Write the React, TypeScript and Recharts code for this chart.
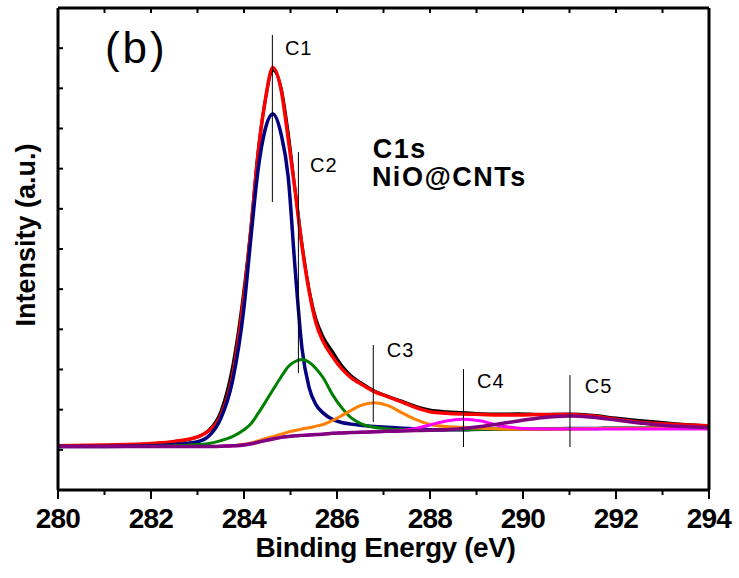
import { LineChart, Line, XAxis, YAxis, ReferenceLine, ReferenceDot } from 'recharts';

// C1s XPS spectrum of NiO@CNTs (intensity in tick units, 0..12)
const energy = [
  280, 281, 282, 282.5, 283, 283.25, 283.5, 283.75, 284, 284.15, 284.3, 284.45, 284.62, 284.8,
  284.95, 285.1, 285.25, 285.4, 285.55, 285.7, 285.9, 286.1, 286.3, 286.5, 286.8, 287.1, 287.4,
  287.7, 288, 288.35, 288.7, 289.1, 289.5, 289.9, 290.4, 291, 291.5, 292, 292.5, 293, 293.5, 294,
];
const measured = [
  1.1, 1.11, 1.15, 1.2, 1.32, 1.5, 1.95, 3.05, 5.0, 6.55, 8.4, 9.65, 10.45, 10.0, 8.9, 7.45, 6.1,
  5.0, 4.25, 3.82, 3.45, 3.1, 2.85, 2.68, 2.47, 2.33, 2.21, 2.08, 1.99, 1.95, 1.93, 1.9, 1.89, 1.9,
  1.88, 1.89, 1.86, 1.79, 1.73, 1.68, 1.63, 1.6,
];
const envelope = [
  1.1, 1.12, 1.16, 1.21, 1.32, 1.48, 1.85, 2.82, 4.85, 6.5, 8.35, 9.65, 10.52, 9.95, 8.75, 7.45,
  6.05, 4.95, 4.15, 3.7, 3.33, 3.02, 2.8, 2.65, 2.45, 2.32, 2.19, 2.05, 1.95, 1.91, 1.89, 1.88,
  1.87, 1.87, 1.88, 1.88, 1.84, 1.76, 1.69, 1.65, 1.62, 1.6,
];
const c1 = [
  1.08, 1.08, 1.1, 1.13, 1.2, 1.35, 1.78, 2.7, 4.55, 6.3, 7.95, 8.95, 9.36, 8.85, 7.8, 5.5, 3.5,
  2.55, 2.12, 1.92, 1.76, 1.68, 1.64, 1.61, 1.58, 1.56, 1.54, 1.52, 1.5, 1.5, 1.5, 1.51, 1.51,
  1.52, 1.52, 1.53, 1.53, 1.54, 1.54, 1.55, 1.55, 1.55,
];
const c2 = [
  1.08, 1.08, 1.09, 1.1, 1.13, 1.16, 1.23, 1.33, 1.5, 1.65, 1.9, 2.17, 2.49, 2.82, 3.07, 3.2, 3.25,
  3.18, 3.02, 2.8, 2.38, 2.05, 1.8, 1.66, 1.56, 1.52, 1.5, 1.49, 1.49, 1.5, 1.5, 1.51, 1.51, 1.52,
  1.52, 1.53, 1.53, 1.54, 1.54, 1.55, 1.55, 1.55,
];
const c3 = [
  1.08, 1.08, 1.08, 1.08, 1.08, 1.08, 1.08, 1.1, 1.14, 1.17, 1.22, 1.28, 1.33, 1.39, 1.44, 1.48,
  1.52, 1.55, 1.59, 1.63, 1.73, 1.85, 1.98, 2.1, 2.17, 2.1, 1.92, 1.75, 1.63, 1.58, 1.56, 1.54,
  1.52, 1.51, 1.51, 1.52, 1.53, 1.54, 1.54, 1.55, 1.55, 1.55,
];
const c4 = [
  1.08, 1.08, 1.08, 1.08, 1.08, 1.08, 1.09, 1.1, 1.12, 1.15, 1.19, 1.23, 1.27, 1.31, 1.33, 1.35,
  1.36, 1.37, 1.38, 1.39, 1.41, 1.42, 1.43, 1.44, 1.45, 1.46, 1.48, 1.53, 1.62, 1.72, 1.76, 1.72,
  1.6, 1.54, 1.52, 1.52, 1.52, 1.52, 1.52, 1.52, 1.52, 1.52,
];
const c5 = [
  1.08, 1.08, 1.08, 1.08, 1.08, 1.08, 1.09, 1.1, 1.12, 1.15, 1.19, 1.23, 1.27, 1.31, 1.33, 1.35,
  1.36, 1.37, 1.38, 1.39, 1.41, 1.42, 1.43, 1.44, 1.45, 1.46, 1.47, 1.48, 1.49, 1.5, 1.53, 1.58,
  1.65, 1.72, 1.8, 1.84, 1.81, 1.74, 1.67, 1.61, 1.58, 1.55,
];

const xTicks = [280, 281, 282, 283, 284, 285, 286, 287, 288, 289, 290, 291, 292, 293, 294];
const yTicks = [0, 1, 2, 3, 4, 5, 6, 7, 8, 9, 10, 11, 12];

// peak markers: vertical line (x, top, bottom) and label anchor
const markerNames = ['C1', 'C2', 'C3', 'C4', 'C5'];
const markerX = [284.61, 285.17, 286.78, 288.72, 291.01];
const markerTop = [11.33, 8.41, 3.61, 3.01, 2.86];
const markerBottom = [7.17, 2.91, 1.69, 1.07, 1.07];
const markerLabelX = [284.88, 285.42, 287.07, 289.01, 291.33];
const markerLabelY = [10.83, 7.92, 3.31, 2.54, 2.41];

const chartData = energy.map((e, i) => ({
  energy: e,
  measured: measured[i],
  envelope: envelope[i],
  c1: c1[i],
  c2: c2[i],
  c3: c3[i],
  c4: c4[i],
  c5: c5[i],
}));

const FONT = "'Liberation Sans', Arial, sans-serif";
const noLabel = () => <g />;

const BottomTick = (props: any) => {
  const { x, y, payload } = props;
  const major = payload.value % 2 === 0;
  return (
    <g>
      <line x1={x} y1={y} x2={x} y2={y + (major ? 9 : 5)} stroke="#000" strokeWidth={2} />
      {major && (
        <text
          x={x}
          y={y + 38}
          textAnchor="middle"
          fontFamily={FONT}
          fontWeight="bold"
          fontSize={28}
          letterSpacing={-0.8}
          fill="#000"
        >
          {payload.value}
        </text>
      )}
    </g>
  );
};

const textAt = (txt: string, size: number, bold: boolean, spacing = 0) => (p: any) => (
  <text
    x={p.cx}
    y={p.cy}
    fontFamily={FONT}
    fontSize={size}
    fontWeight={bold ? 'bold' : 'normal'}
    letterSpacing={spacing}
    fill="#000"
  >
    {txt}
  </text>
);

export default function App() {
  const line = (key: string, color: string, width = 3) => (
    <Line
      type="monotone"
      dataKey={key}
      stroke={color}
      strokeWidth={width}
      dot={false}
      activeDot={false}
      isAnimationActive={false}
    />
  );

  return (
    <div style={{ position: 'absolute', left: 0, top: 0, width: 739, height: 578, background: '#fff' }}>
      <LineChart
        width={739}
        height={578}
        data={chartData}
        margin={{ top: 7, right: 29, bottom: 0, left: 0 }}
      >
        <XAxis
          dataKey="energy"
          type="number"
          domain={[280, 294]}
          ticks={xTicks}
          interval={0}
          height={88}
          tickSize={0}
          tickMargin={0}
          tick={<BottomTick />}
          axisLine={{ stroke: '#000', strokeWidth: 3 }}
          label={{
            content: (p: any) => (
              <text
                x={p.viewBox.x + p.viewBox.width / 2 + 2}
                y={p.viewBox.y + 67}
                textAnchor="middle"
                fontFamily={FONT}
                fontWeight="bold"
                fontSize={28}
                letterSpacing={-0.4}
                fill="#000"
              >
                Binding Energy (eV)
              </text>
            ),
          }}
        />
        <XAxis
          xAxisId="top"
          orientation="top"
          dataKey="energy"
          type="number"
          domain={[280, 294]}
          ticks={xTicks}
          interval={0}
          height={1}
          tickSize={-5}
          tick={noLabel}
          tickLine={{ stroke: '#000', strokeWidth: 2 }}
          axisLine={{ stroke: '#000', strokeWidth: 3 }}
        />
        <YAxis
          type="number"
          domain={[0, 12]}
          ticks={yTicks}
          interval={0}
          width={58}
          tickSize={-5}
          tick={noLabel}
          tickLine={{ stroke: '#000', strokeWidth: 2 }}
          axisLine={{ stroke: '#000', strokeWidth: 3 }}
          label={{
            content: (p: any) => {
              const cx = p.viewBox.x + 35;
              const cy = p.viewBox.y + p.viewBox.height / 2 - 14;
              return (
                <text
                  x={cx}
                  y={cy}
                  transform={`rotate(-90, ${cx}, ${cy})`}
                  textAnchor="middle"
                  fontFamily={FONT}
                  fontWeight="bold"
                  fontSize={27}
                  fill="#000"
                >
                  Intensity (a.u.)
                </text>
              );
            },
          }}
        />
        <YAxis
          yAxisId="right"
          orientation="right"
          type="number"
          domain={[0, 12]}
          ticks={yTicks}
          interval={0}
          width={1}
          tickSize={4}
          tick={noLabel}
          tickLine={{ stroke: '#000', strokeWidth: 2 }}
          axisLine={{ stroke: '#000', strokeWidth: 3 }}
        />

        {line('measured', '#000000', 3)}
        {line('envelope', '#ff0000', 3.5)}
        {line('c1', '#000080', 3.5)}
        {line('c2', '#008000', 3)}
        {line('c3', '#ff8000', 3)}
        {line('c4', '#ff00ff', 3)}
        {line('c5', '#800080', 3.5)}

        {markerNames.map((name, i) => (
          <ReferenceLine
            key={`l-${name}`}
            segment={[
              { x: markerX[i], y: markerTop[i] },
              { x: markerX[i], y: markerBottom[i] },
            ]}
            stroke="#000"
            strokeWidth={1}
          />
        ))}
        {markerNames.map((name, i) => (
          <ReferenceDot
            key={`t-${name}`}
            x={markerLabelX[i]}
            y={markerLabelY[i]}
            shape={textAt(name, 20, false, 1)}
          />
        ))}

        <ReferenceDot x={281.01} y={10.63} shape={textAt('(b)', 44, false, 3)} />
        <ReferenceDot x={286.77} y={8.27} shape={textAt('C1s', 27, true, 1.5)} />
        <ReferenceDot x={286.75} y={7.57} shape={textAt('NiO@CNTs', 27, true, 1.5)} />
      </LineChart>
    </div>
  );
}
